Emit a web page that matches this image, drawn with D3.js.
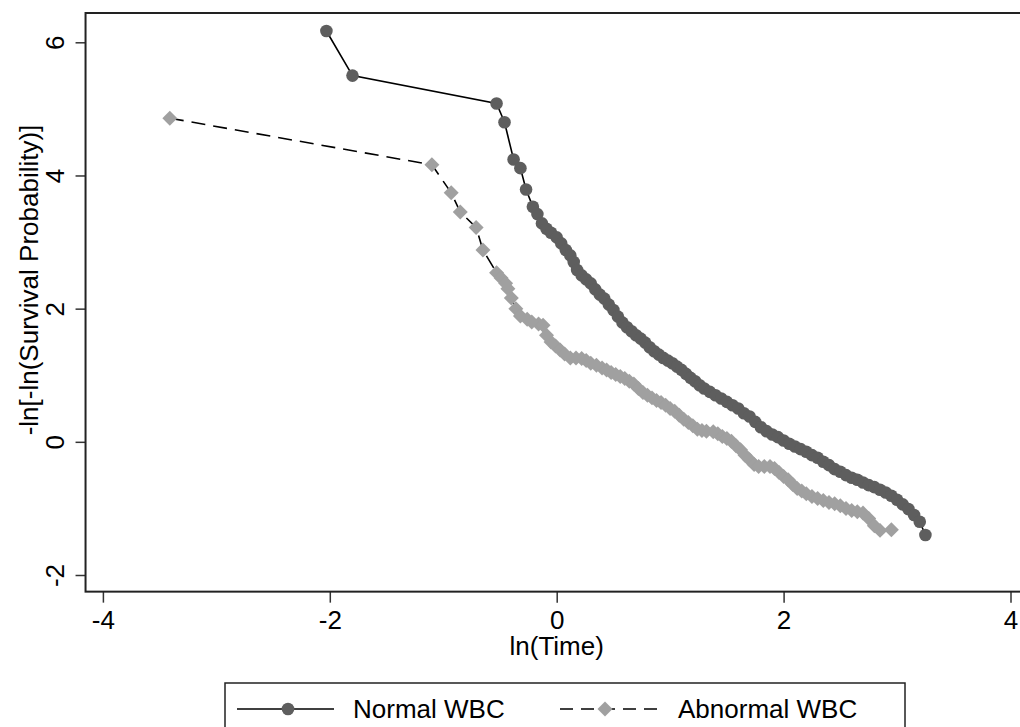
<!DOCTYPE html>
<html>
<head>
<meta charset="utf-8">
<script src="https://cdn.jsdelivr.net/npm/d3@7/dist/d3.min.js"></script>
<style>
  html, body { margin: 0; padding: 0; background: #fff; }
  svg { display: block; }
  text { font-family: "Liberation Sans", Arial, sans-serif; fill: #000; }
</style>
</head>
<body>
<svg id="chart" width="1020" height="727"></svg>
<script>
// ---------- data ----------
const xTicks = [-4, -2, 0, 2, 4];
const yTicks = [-2, 0, 2, 4, 6];
const xTitle = "ln(Time)";
const yTitle = "-ln[-ln(Survival Probability)]";
const seriesNames = ["Normal WBC", "Abnormal WBC"];

const normalX = [-2.03, -1.80, -0.53, -0.46, -0.38, -0.32, -0.27, -0.21, -0.17, -0.13, -0.09, -0.05, 0.00, 0.04, 0.08, 0.12, 0.15, 0.18, 0.22, 0.26, 0.30, 0.34, 0.38, 0.42, 0.46, 0.50, 0.54, 0.58, 0.62, 0.66, 0.70, 0.74, 0.78, 0.82, 0.86, 0.90, 0.94, 0.98, 1.02, 1.06, 1.10, 1.14, 1.18, 1.22, 1.26, 1.30, 1.35, 1.40, 1.45, 1.50, 1.55, 1.60, 1.65, 1.70, 1.75, 1.80, 1.85, 1.90, 1.95, 2.00, 2.05, 2.10, 2.15, 2.20, 2.25, 2.30, 2.35, 2.40, 2.45, 2.50, 2.55, 2.60, 2.65, 2.70, 2.75, 2.80, 2.85, 2.90, 2.95, 3.00, 3.05, 3.10, 3.15, 3.20, 3.25];
const normalY = [6.17, 5.50, 5.08, 4.80, 4.24, 4.11, 3.79, 3.53, 3.42, 3.28, 3.20, 3.14, 3.07, 2.98, 2.88, 2.80, 2.70, 2.58, 2.50, 2.44, 2.38, 2.29, 2.21, 2.15, 2.06, 1.98, 1.88, 1.79, 1.72, 1.66, 1.60, 1.55, 1.49, 1.42, 1.36, 1.31, 1.26, 1.22, 1.18, 1.13, 1.08, 1.02, 0.96, 0.91, 0.85, 0.80, 0.75, 0.70, 0.65, 0.60, 0.55, 0.50, 0.43, 0.38, 0.30, 0.22, 0.16, 0.11, 0.07, 0.02, -0.03, -0.07, -0.11, -0.15, -0.20, -0.24, -0.30, -0.35, -0.41, -0.45, -0.50, -0.54, -0.57, -0.61, -0.65, -0.68, -0.72, -0.76, -0.81, -0.87, -0.94, -1.01, -1.10, -1.20, -1.40];

const abnormalX = [-3.41, -1.10, -0.93, -0.85, -0.71, -0.65, -0.53, -0.49, -0.45, -0.43, -0.40, -0.36, -0.32, -0.26, -0.22, -0.16, -0.12, -0.09, -0.05, -0.01, 0.03, 0.07, 0.12, 0.17, 0.22, 0.26, 0.30, 0.35, 0.40, 0.44, 0.48, 0.52, 0.56, 0.60, 0.64, 0.68, 0.72, 0.76, 0.80, 0.84, 0.88, 0.92, 0.96, 1.00, 1.04, 1.08, 1.12, 1.16, 1.20, 1.24, 1.28, 1.32, 1.38, 1.42, 1.46, 1.50, 1.54, 1.58, 1.62, 1.66, 1.70, 1.74, 1.78, 1.83, 1.88, 1.92, 1.96, 2.00, 2.04, 2.08, 2.12, 2.16, 2.20, 2.25, 2.30, 2.35, 2.40, 2.45, 2.50, 2.55, 2.60, 2.65, 2.70, 2.75, 2.80, 2.85, 2.95];
const abnormalY = [4.86, 4.16, 3.74, 3.45, 3.22, 2.88, 2.54, 2.46, 2.38, 2.30, 2.16, 2.00, 1.89, 1.84, 1.80, 1.77, 1.75, 1.60, 1.50, 1.44, 1.38, 1.32, 1.26, 1.26, 1.25, 1.22, 1.18, 1.15, 1.11, 1.08, 1.04, 1.01, 0.98, 0.95, 0.91, 0.87, 0.80, 0.74, 0.70, 0.66, 0.62, 0.59, 0.55, 0.50, 0.46, 0.40, 0.34, 0.29, 0.24, 0.19, 0.17, 0.16, 0.15, 0.12, 0.08, 0.05, 0.01, -0.06, -0.12, -0.20, -0.27, -0.34, -0.37, -0.37, -0.37, -0.40, -0.46, -0.52, -0.57, -0.64, -0.70, -0.74, -0.78, -0.82, -0.85, -0.88, -0.91, -0.93, -0.96, -1.00, -1.03, -1.05, -1.07, -1.15, -1.26, -1.33, -1.32];

// ---------- layout ----------
const svg = d3.select("#chart");
const x = d3.scaleLinear().domain([-4, 4]).range([102.9, 1010.5]);
const y = d3.scaleLinear().domain([-2, 6]).range([575, 42.3]);
const xExtent = [-4.153, 4.14];
const yExtent = [-2.25, 6.44];
const FS = 26;

const normal = normalX.map((v, i) => ({ x: v, y: normalY[i] }));
const abnormal = abnormalX.map((v, i) => ({ x: v, y: abnormalY[i] }));

const normalColor = "#5e5e5e";
const abnormalColor = "#a0a0a0";

// axes
const xAxis = d3.axisBottom(x).tickValues(xTicks).tickSize(11).tickPadding(8)
  .tickFormat(d3.format("d"));
const gx = svg.append("g").attr("transform", `translate(0,${y(yExtent[0])})`).call(xAxis);
gx.select(".domain").remove();
gx.selectAll(".tick line").attr("stroke", "#333").attr("stroke-width", 1.5);
gx.selectAll(".tick text").attr("font-size", FS).attr("font-family", "Liberation Sans, Arial, sans-serif")
  .attr("fill", "#000").text(d => d < 0 ? "-" + Math.abs(d) : d);

const yAxis = d3.axisLeft(y).tickValues(yTicks).tickSize(10).tickPadding(10)
  .tickFormat(d3.format("d"));
const gy = svg.append("g").attr("transform", `translate(${x(xExtent[0])},0)`).call(yAxis);
gy.select(".domain").remove();
gy.selectAll(".tick line").attr("stroke", "#333").attr("stroke-width", 1.5);
gy.selectAll(".tick text")
  .attr("font-size", FS).attr("font-family", "Liberation Sans, Arial, sans-serif").attr("fill", "#000")
  .text(d => d < 0 ? "-" + Math.abs(d) : d)
  .attr("x", null).attr("dy", null)
  .attr("text-anchor", "middle")
  .attr("transform", "translate(-22,0) rotate(-90)");

// frame
svg.append("rect")
  .attr("x", x(xExtent[0])).attr("y", y(yExtent[1]))
  .attr("width", x(xExtent[1]) - x(xExtent[0]))
  .attr("height", y(yExtent[0]) - y(yExtent[1]))
  .attr("fill", "none").attr("stroke", "#222").attr("stroke-width", 2);

// titles
svg.append("text").attr("x", x(0)).attr("y", 655).attr("text-anchor", "middle")
  .attr("font-size", FS).text(xTitle);
svg.append("text").attr("transform", "translate(38,280) rotate(-90)")
  .attr("text-anchor", "middle").attr("font-size", FS).text(yTitle);

// series
const line = d3.line().x(d => x(d.x)).y(d => y(d.y));
const plot = svg.append("g");

plot.append("path").datum(abnormal).attr("d", line)
  .attr("fill", "none").attr("stroke", "#000").attr("stroke-width", 1.6)
  .attr("stroke-dasharray", "14,8");
const diamond = d3.symbol().type(d3.symbolSquare).size(112);
plot.selectAll(".ab").data(abnormal).join("path").attr("class", "ab")
  .attr("d", diamond)
  .attr("transform", d => `translate(${x(d.x)},${y(d.y)}) rotate(45)`)
  .attr("fill", abnormalColor);

plot.append("path").datum(normal).attr("d", line)
  .attr("fill", "none").attr("stroke", "#000").attr("stroke-width", 1.6);
plot.selectAll(".nm").data(normal).join("circle").attr("class", "nm")
  .attr("cx", d => x(d.x)).attr("cy", d => y(d.y)).attr("r", 6.3)
  .attr("fill", normalColor);

// legend
const lg = svg.append("g");
lg.append("rect").attr("x", 225).attr("y", 683).attr("width", 680).attr("height", 60)
  .attr("fill", "#fff").attr("stroke", "#222").attr("stroke-width", 1.5);
const ly = 709;
lg.append("line").attr("x1", 237).attr("x2", 334).attr("y1", ly).attr("y2", ly)
  .attr("stroke", "#000").attr("stroke-width", 1.6);
lg.append("circle").attr("cx", 288).attr("cy", ly).attr("r", 6.3).attr("fill", normalColor);
lg.append("text").attr("x", 353).attr("y", ly + 9).attr("font-size", FS).text(seriesNames[0]);
lg.append("line").attr("x1", 560).attr("x2", 662).attr("y1", ly).attr("y2", ly)
  .attr("stroke", "#000").attr("stroke-width", 1.6).attr("stroke-dasharray", "13,8");
lg.append("path").attr("d", diamond).attr("transform", `translate(605,${ly}) rotate(45)`)
  .attr("fill", abnormalColor);
lg.append("text").attr("x", 678).attr("y", ly + 9).attr("font-size", FS).text(seriesNames[1]);
</script>
</body>
</html>
